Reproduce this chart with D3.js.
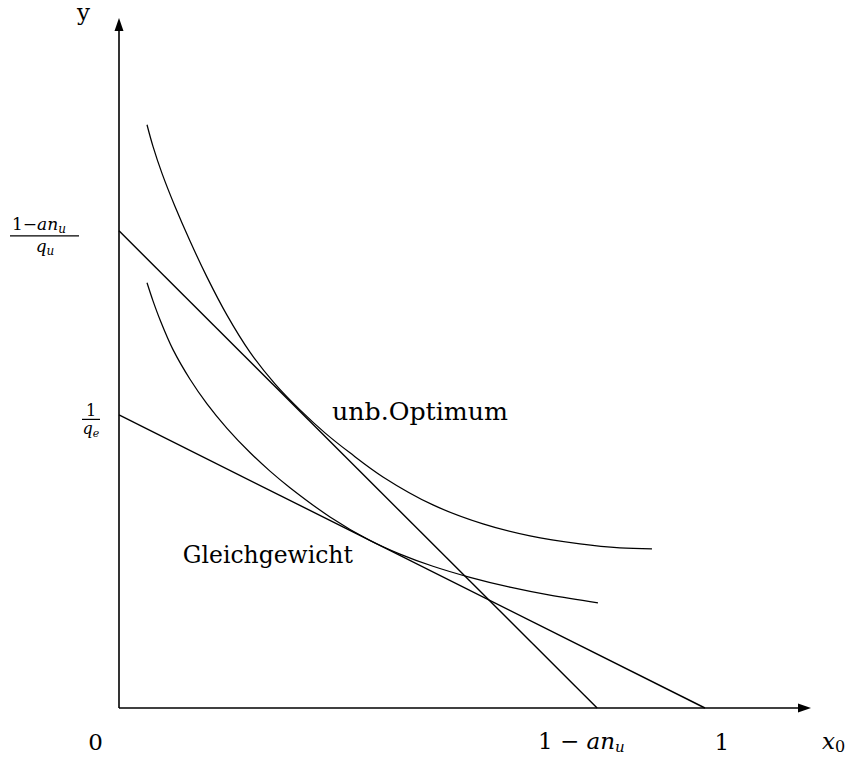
<!DOCTYPE html>
<html><head><meta charset="utf-8">
<script src="https://cdn.jsdelivr.net/npm/d3@7"></script>
<style>
html,body{margin:0;padding:0;background:#fff;}
text{font-family:"DejaVu Serif","Liberation Serif",serif;fill:#000;}
</style></head>
<body><svg id="c" width="846" height="758"></svg>
<script>
// ---- data (in model units) ----
const budgetSteep = [[0, 0.814], [0.816, 0]];   // (1-an_u)/q_u  to  1-an_u
const budgetFlat  = [[0, 0.5], [1, 0]];          // 1/q_e  to  1
const curveUpper = [[0.0478,0.9949],[0.0580,0.9580],[0.0734,0.9119],[0.0956,0.8554],[0.1212,0.7965],[0.1502,0.7350],[0.1843,0.6701],[0.2235,0.6070],[0.2662,0.5529],[0.3089,0.5085],[0.3515,0.4693],[0.3942,0.4352],[0.4505,0.3942],[0.5358,0.3464],[0.6212,0.3140],[0.7014,0.2935],[0.7867,0.2799],[0.8549,0.2730],[0.9096,0.2713]];
const curveLower = [[0.0478,0.7253],[0.0580,0.6945],[0.0700,0.6623],[0.0922,0.6113],[0.1212,0.5608],[0.1502,0.5188],[0.1843,0.4771],[0.2235,0.4358],[0.2577,0.4041],[0.2918,0.3758],[0.3601,0.3259],[0.4283,0.2857],[0.4795,0.2626],[0.5358,0.2418],[0.5990,0.2229],[0.6672,0.2061],[0.7355,0.1925],[0.8174,0.1794]];
const xTicks = [0, 0.816, 1];
const yTicks = [0.814, 0.5];
const curveLabels = [{t:"unb.Optimum", p:[0.3635,0.4915]}, {t:"Gleichgewicht", p:[0.109,0.2475]}];

const svg = d3.select("#c");
const x = d3.scaleLinear().domain([0, 1.181]).range([119, 811]);
const y = d3.scaleLinear().domain([0, 1.177]).range([708, 18]);

// axes
svg.append("line").attr("x1", x(0)).attr("y1", y(0)).attr("x2", x(1.181)-10).attr("y2", y(0)).attr("stroke","#000").attr("stroke-width",1.6);
svg.append("line").attr("x1", x(0)).attr("y1", y(0)).attr("x2", x(0)).attr("y2", y(1.177)+10).attr("stroke","#000").attr("stroke-width",1.6);
svg.append("path").attr("d", `M${x(1.181)},${y(0)} L${x(1.181)-13},${y(0)-4.5} L${x(1.181)-13},${y(0)+4.5} Z`).attr("fill","#000");
svg.append("path").attr("d", `M${x(0)},${y(1.177)} L${x(0)-4.5},${y(1.177)+13} L${x(0)+4.5},${y(1.177)+13} Z`).attr("fill","#000");

const line = d3.line().x(d=>x(d[0])).y(d=>y(d[1]));
const smooth = d3.line().x(d=>x(d[0])).y(d=>y(d[1])).curve(d3.curveCatmullRom.alpha(0.5));
[budgetSteep, budgetFlat].forEach(b=>svg.append("path").attr("d", line(b)).attr("fill","none").attr("stroke","#000").attr("stroke-width",1.4));
[curveUpper, curveLower].forEach(c=>svg.append("path").attr("d", smooth(c)).attr("fill","none").attr("stroke","#000").attr("stroke-width",1.25));

// curve labels
curveLabels.forEach((l,i)=>{
  svg.append("text").attr("x", x(l.p[0])).attr("y", y(l.p[1])).attr("font-size", 24)
    .attr("textLength", i===0?176:170).attr("lengthAdjust","spacingAndGlyphs").text(l.t);
});

// axis names
svg.append("text").attr("x", 77).attr("y", 20).attr("font-size", 23).text("y");
const xn = svg.append("text").attr("x", 822).attr("y", 749).attr("font-size", 23);
xn.append("tspan").attr("font-style","italic").text("x");
xn.append("tspan").attr("font-size", 16).attr("dy", 3).text("0");

// x tick labels
svg.append("text").attr("x", x(xTicks[0])-23.5).attr("y", 750).attr("text-anchor","middle").attr("font-size",23).text("0");
const t1 = svg.append("text").attr("x", 538).attr("y", 749).attr("font-size",23);
t1.append("tspan").text("1 − ");
t1.append("tspan").attr("font-style","italic").text("an");
t1.append("tspan").attr("font-style","italic").attr("font-size",15).attr("dy",3).text("u");
svg.append("text").attr("x", x(xTicks[2])+17).attr("y", 750).attr("text-anchor","middle").attr("font-size",23).text("1");

// y tick labels (fractions)
const f1y = y(yTicks[0]);
const n1 = svg.append("text").attr("x", 12).attr("y", f1y-1).attr("font-size",17);
n1.append("tspan").text("1−");
n1.append("tspan").attr("font-style","italic").text("an");
n1.append("tspan").attr("font-style","italic").attr("font-size",12).attr("dy",3).text("u");
svg.append("line").attr("x1",10).attr("x2",79).attr("y1",f1y+5).attr("y2",f1y+5).attr("stroke","#000").attr("stroke-width",1.2);
const d1 = svg.append("text").attr("x", 45).attr("y", f1y+21).attr("text-anchor","middle").attr("font-size",17);
d1.append("tspan").attr("font-style","italic").text("q");
d1.append("tspan").attr("font-style","italic").attr("font-size",12).attr("dy",3).text("u");

const f2y = y(yTicks[1]);
svg.append("text").attr("x", 91).attr("y", f2y+1).attr("text-anchor","middle").attr("font-size",16).text("1");
svg.append("line").attr("x1",82).attr("x2",100).attr("y1",f2y+4.5).attr("y2",f2y+4.5).attr("stroke","#000").attr("stroke-width",1.2);
const d2 = svg.append("text").attr("x", 91).attr("y", f2y+19).attr("text-anchor","middle").attr("font-size",16);
d2.append("tspan").attr("font-style","italic").text("q");
d2.append("tspan").attr("font-style","italic").attr("font-size",11).attr("dy",3).text("e");
</script></body></html>
